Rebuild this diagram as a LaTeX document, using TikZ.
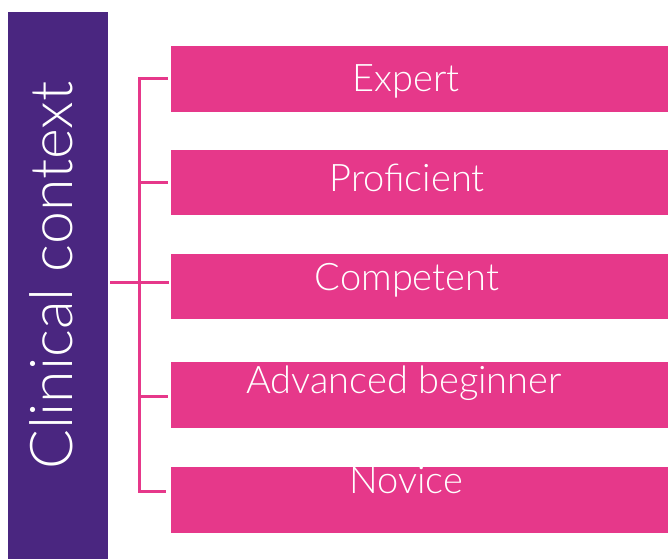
\documentclass[tikz,border=0pt]{standalone}
\usepackage{fontspec}
\setmainfont{Lato Light}
\definecolor{barpurple}{RGB}{74,38,128}
\definecolor{boxpink}{RGB}{230,56,138}
\begin{document}
\begin{tikzpicture}[x=1pt,y=-1pt,
  levelbox/.style={rectangle, fill=boxpink, draw=none, inner sep=0pt, minimum width=497pt, minimum height=65.5pt, anchor=north west},
  leveltext/.style={text=white, font=\fontsize{38}{42}\selectfont, anchor=base, inner sep=0pt},
  conn/.style={draw=boxpink, line width=3pt, line join=miter}]
\useasboundingbox (0,0) rectangle (668,559);
\node[rectangle, fill=barpurple, inner sep=0pt, minimum width=100pt, minimum height=547pt, anchor=north west] (bar) at (8,12) {};
\node[text=white, font=\fontsize{59}{63}\selectfont, rotate=90, anchor=base, inner sep=0pt] (ctx) at (72,275.5) {Clinical context};
\node[levelbox] (b1) at (171,46) {};
\node[levelbox] (b2) at (171,149.5) {};
\node[levelbox] (b3) at (171,253.5) {};
\node[levelbox] (b4) at (171,362) {};
\node[levelbox] (b5) at (171,467) {};
\node[leveltext] (t1) at (406,91.7) {Expert};
\node[leveltext] (t2) at (407,191) {Proficient};
\node[leveltext] (t3) at (407,290.7) {Competent};
\node[leveltext] (t4) at (404,393) {Advanced beginner};
\node[leveltext] (t5) at (406,493.3) {Novice};
\coordinate (sp) at (139,0);
\coordinate (e1) at ([xshift=-3pt]b1.west);
\coordinate (e2) at ([xshift=-3pt,yshift=0.3pt]b2.west);
\coordinate (e3) at ([xshift=-2.5pt,yshift=4pt]b3.west);
\coordinate (e4) at ([xshift=-3.5pt,yshift=-2pt]b4.west);
\coordinate (e5) at ([xshift=-5.5pt,yshift=8.5pt]b5.west);
\draw[conn] (e1) -- (e1 -| sp) -- (e5 -| sp) -- (e5);
\draw[conn] (e2 -| sp) -- (e2);
\draw[conn] (e4 -| sp) -- (e4);
\draw[conn] ([xshift=2pt]bar.east |- e3) -- (e3);
\end{tikzpicture}
\end{document}
